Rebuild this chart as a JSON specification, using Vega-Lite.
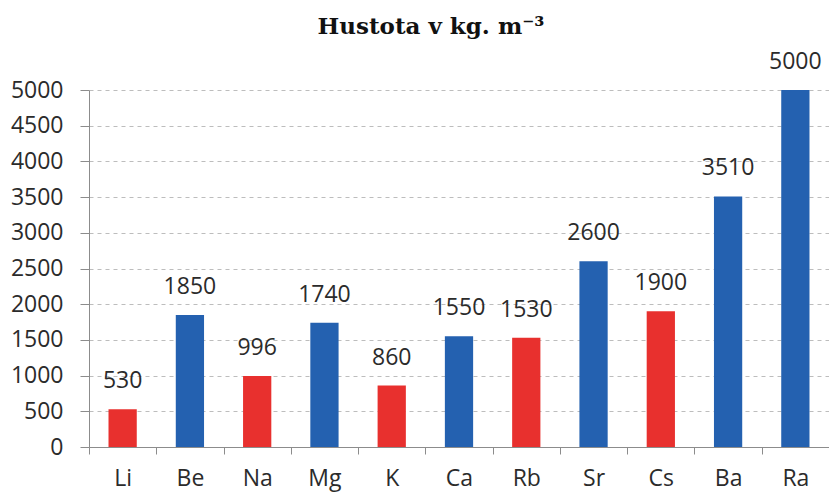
{
  "$schema": "https://vega.github.io/schema/vega-lite/v6.json",
  "width": 740,
  "height": 357,
  "autosize": {"type": "none"},
  "padding": {"left": 89, "top": 90, "right": 0, "bottom": 47},
  "background": "white",
  "title": {"text": "Hustota v kg. m⁻³", "font": "DejaVu Serif", "fontSize": 23, "fontWeight": "bold", "color": "#111111", "anchor": "middle", "dx": -28, "offset": 12},
  "config": {"view": {"stroke": null}},
  "data": {"values": [
    {"el": "Li", "density": 530, "group": "alkali"},
    {"el": "Be", "density": 1850, "group": "earth"},
    {"el": "Na", "density": 996, "group": "alkali"},
    {"el": "Mg", "density": 1740, "group": "earth"},
    {"el": "K", "density": 860, "group": "alkali"},
    {"el": "Ca", "density": 1550, "group": "earth"},
    {"el": "Rb", "density": 1530, "group": "alkali"},
    {"el": "Sr", "density": 2600, "group": "earth"},
    {"el": "Cs", "density": 1900, "group": "alkali"},
    {"el": "Ba", "density": 3510, "group": "earth"},
    {"el": "Ra", "density": 5000, "group": "earth"}
  ]},
  "encoding": {
    "x": {"field": "el", "type": "nominal", "sort": null,
      "scale": {"paddingInner": 0, "paddingOuter": 0},
      "axis": {"title": null, "labelAngle": 0, "tickBand": "extent", "tickSize": 7, "domainColor": "#8c8c8c", "tickColor": "#8c8c8c", "labelFont": "Open Sans", "labelFontSize": 23, "labelColor": "#2b2b2b", "labelPadding": 13, "grid": false}},
    "y": {"field": "density", "type": "quantitative",
      "scale": {"domain": [0, 5000], "nice": false},
      "axis": {"title": null, "format": "d", "values": [0,500,1000,1500,2000,2500,3000,3500,4000,4500,5000], "grid": true, "gridDash": [4, 4], "gridColor": "#bdbdbd", "domainColor": "#8c8c8c", "tickColor": "#8c8c8c", "tickSize": 9, "labelPadding": 17, "labelFont": "Open Sans", "labelFontSize": 23, "labelColor": "#2b2b2b"}}
  },
  "layer": [
    {"mark": {"type": "bar", "width": {"band": 0.42}},
     "encoding": {"color": {"field": "group", "type": "nominal", "legend": null,
       "scale": {"domain": ["alkali", "earth"], "range": ["#e8302e", "#2461b0"]}}}},
    {"mark": {"type": "text", "baseline": "bottom", "dy": -16, "font": "Open Sans", "fontSize": 23, "color": "#2b2b2b"},
     "encoding": {"text": {"field": "density", "type": "quantitative", "format": "d"}}}
  ]
}
